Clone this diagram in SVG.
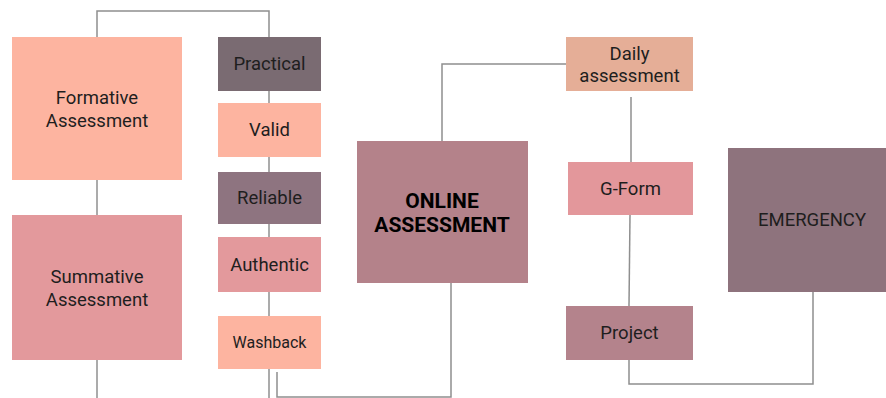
<svg xmlns="http://www.w3.org/2000/svg" width="886" height="398" viewBox="0 0 886 398">
<style>
text{font-family:Roboto,"Liberation Sans",sans-serif;font-size:18.5px;fill:#1e1e1e;text-anchor:middle}
.b{font-weight:bold;font-size:21px;fill:#000}
.s{font-size:16px}
.c{fill:none;stroke:#8f8f8f;stroke-width:1.5}
</style>
<rect width="886" height="398" fill="#fff"/>
<g id="connectors">
<polyline class="c" points="97,37 97,11 269,11 269,37"/>
<line class="c" x1="97" y1="180" x2="97" y2="215"/>
<line class="c" x1="97" y1="360" x2="97" y2="398"/>
<line class="c" x1="269" y1="91" x2="269" y2="103"/>
<line class="c" x1="269" y1="157" x2="269" y2="172"/>
<line class="c" x1="269" y1="224" x2="269" y2="237"/>
<line class="c" x1="269" y1="292" x2="269" y2="316"/>
<line class="c" x1="269" y1="369" x2="269" y2="398"/>
<polyline class="c" points="277,372 277,397 451,397 451,283"/>
<polyline class="c" points="442,141 442,64 566,64"/>
<line class="c" x1="631" y1="97" x2="631" y2="162"/>
<line class="c" x1="630" y1="215" x2="629" y2="306"/>
<polyline class="c" points="629,360 629,384 813,384 813,292"/>
</g>
<g id="formative"><rect x="12" y="37" width="170" height="143" fill="#FDB4A0"/><text x="97" y="104">Formative</text><text x="97" y="127">Assessment</text></g>
<g id="summative"><rect x="12" y="215" width="170" height="145" fill="#E3999C"/><text x="97" y="283">Summative</text><text x="97" y="306">Assessment</text></g>
<g id="practical"><rect x="218" y="37" width="103" height="54" fill="#7A6B72"/><text x="269.5" y="70">Practical</text></g>
<g id="valid"><rect x="218" y="103" width="103" height="54" fill="#FDB4A0"/><text x="269.5" y="136">Valid</text></g>
<g id="reliable"><rect x="218" y="172" width="103" height="52" fill="#8E7480"/><text x="269.5" y="204">Reliable</text></g>
<g id="authentic"><rect x="218" y="237" width="103" height="55" fill="#E3999C"/><text x="269.5" y="271">Authentic</text></g>
<g id="washback"><rect x="218" y="316" width="103" height="53" fill="#FDB4A0"/><text class="s" x="269.5" y="348">Washback</text></g>
<g id="online"><rect x="357" y="141" width="171" height="142" fill="#B4828A"/><text class="b" x="442" y="208">ONLINE</text><text class="b" x="442" y="232">ASSESSMENT</text></g>
<g id="daily"><rect x="566" y="37" width="127" height="54" fill="#E5AE97"/><text x="629.5" y="60">Daily</text><text x="629.5" y="82">assessment</text></g>
<g id="gform"><rect x="568" y="162" width="125" height="53" fill="#E3979B"/><text x="630.5" y="195">G-Form</text></g>
<g id="project"><rect x="566" y="306" width="127" height="54" fill="#B4838C"/><text x="629.5" y="339">Project</text></g>
<g id="emergency"><rect x="728" y="148" width="158" height="144" fill="#8E737D"/><text x="812" y="226">EMERGENCY</text></g>
</svg>
